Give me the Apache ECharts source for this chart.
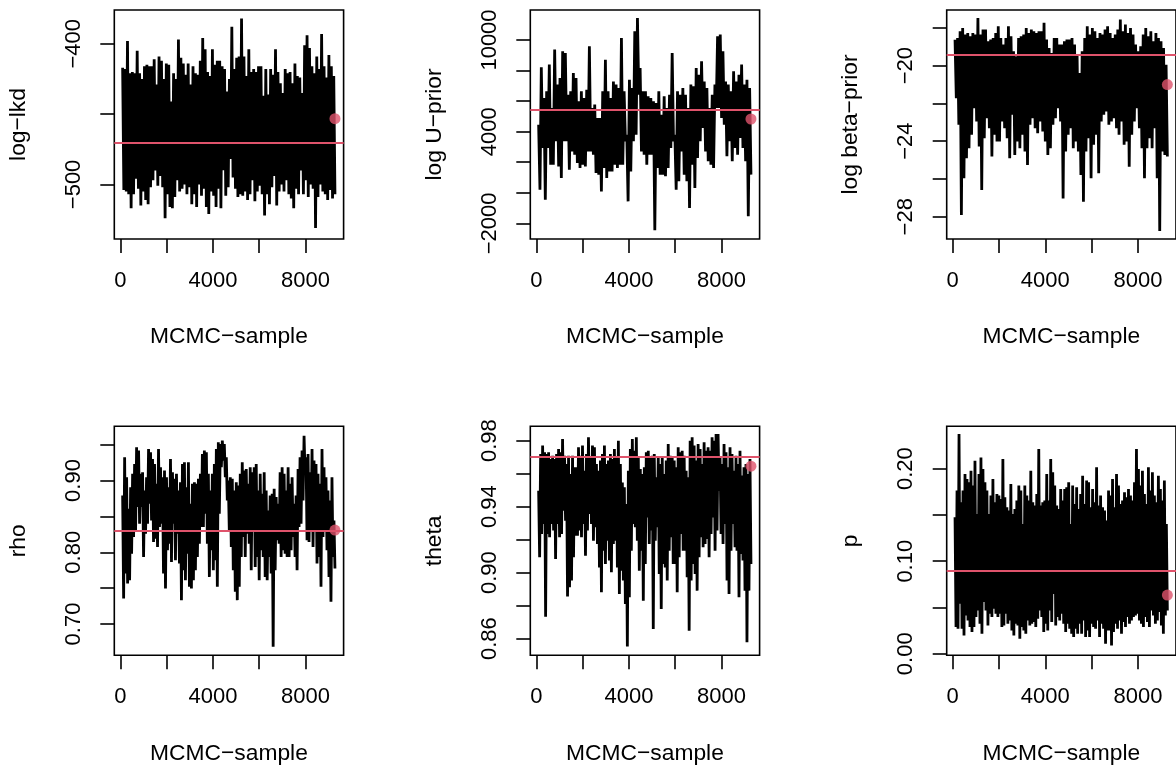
<!DOCTYPE html>
<html><head><meta charset="utf-8">
<script src="https://cdn.jsdelivr.net/npm/echarts@6/dist/echarts.min.js"></script>
<style>html,body{margin:0;padding:0;background:#fff}#c{width:1176px;height:766px}</style>
</head><body><div id="c"></div><script>
// ---- data ----
const sampleFirst = 100, sampleLast = 9270;          // MCMC iteration range of the traces
const xTicks = [0, 2000, 4000, 6000, 8000];
const xLabelVals = [0, 4000, 8000];
const xTitle = 'MCMC\u2212sample';
const yTitles = ['log\u2212lkd', 'log U\u2212prior', 'log beta\u2212prior', 'rho', 'theta', 'p'];

// local upper / lower extremes of each trace, read along the sample axis
const lkdHigh = [-417,-418,-398,-421,-420,-421,-405,-421,-425,-416,-415,-416,-416,-411,-429,-409,-412,-425,-414,-415,-441,-421,-425,-397,-410,-414,-422,-414,-429,-416,-421,-422,-412,-396,-404,-420,-423,-404,-415,-412,-412,-416,-418,-434,-425,-388,-418,-410,-409,-382,-409,-423,-404,-420,-418,-420,-416,-416,-437,-418,-436,-418,-422,-404,-420,-428,-435,-418,-421,-420,-428,-414,-423,-424,-435,-401,-394,-403,-416,-421,-409,-418,-393,-416,-424,-408,-416,-423];
const lkdLow = [-504,-505,-507,-517,-507,-496,-503,-515,-505,-511,-514,-502,-497,-490,-501,-494,-502,-524,-507,-516,-517,-509,-497,-505,-503,-500,-507,-502,-514,-507,-516,-500,-508,-503,-516,-521,-505,-508,-516,-503,-517,-490,-508,-502,-482,-495,-503,-509,-507,-508,-505,-511,-507,-497,-512,-505,-501,-507,-522,-507,-514,-502,-494,-515,-505,-500,-505,-497,-507,-510,-517,-503,-507,-490,-507,-497,-509,-500,-503,-531,-509,-500,-505,-507,-511,-504,-510,-507];

const uHigh = [4460,8210,6200,6640,8390,5550,9370,7080,7510,9260,9150,6420,6640,7840,7510,5990,6640,6200,6750,9590,5550,5770,4890,4890,6640,8710,6640,6200,7290,7080,6860,10130,6640,3800,7400,6860,10570,11440,8170,6640,6640,6310,6200,5990,5880,6640,5110,6310,5550,6420,9150,3800,6640,6420,6860,6420,5550,7080,6970,8170,7730,8600,7290,6860,5550,6420,7080,10240,10350,9260,7290,7080,6640,7950,7290,7730,8390,7080,7400,6860];
const uLow = [200,2930,-450,2930,1840,1840,3370,1730,970,3370,3370,1510,2710,2490,1950,1620,1840,1730,2710,2710,2490,1290,1190,90,1620,970,1400,1400,1840,1620,1840,1840,3370,-560,1400,3370,3800,6420,2710,2490,1840,2490,2490,-2450,1620,1190,1190,1080,1620,2930,3370,200,750,2710,1190,750,-1000,1840,310,2280,3370,4240,2710,2060,1840,1620,5550,5550,4890,4460,2390,3370,2060,2930,2490,3590,2930,2060,-1540,1190];

const betaHigh = [-18.62,-18.53,-18.18,-18.00,-18.35,-18.27,-18.44,-18.27,-18.35,-17.47,-18.35,-18.09,-18.09,-18.71,-18.62,-18.53,-18.27,-17.91,-18.53,-18.88,-18.53,-17.91,-18.44,-19.24,-19.50,-18.53,-18.44,-18.35,-18.00,-18.27,-18.09,-18.18,-18.27,-18.18,-18.18,-17.73,-18.62,-19.06,-19.33,-18.53,-18.53,-18.88,-18.88,-18.71,-18.62,-18.62,-18.53,-18.88,-19.42,-20.39,-19.24,-18.53,-17.91,-18.35,-18.00,-18.18,-18.53,-18.27,-18.35,-18.09,-17.91,-18.27,-18.53,-18.35,-18.09,-17.56,-18.18,-17.82,-18.27,-18.00,-18.35,-18.88,-19.24,-18.97,-18.35,-18.00,-18.44,-18.18,-18.71,-18.27,-18.53,-18.71,-19.06,-19.95];
const betaLow = [-21.72,-23.13,-27.91,-25.96,-24.90,-24.37,-23.66,-22.25,-22.96,-24.28,-26.58,-23.84,-22.78,-23.31,-24.81,-23.66,-24.02,-24.02,-22.96,-23.31,-23.84,-24.90,-22.60,-24.73,-24.02,-24.37,-23.66,-24.55,-25.26,-23.13,-22.78,-23.31,-23.58,-22.96,-23.49,-24.02,-24.73,-24.37,-23.13,-22.78,-22.25,-22.96,-27.03,-24.55,-23.66,-23.31,-24.37,-24.02,-24.55,-25.79,-27.20,-24.55,-23.84,-25.96,-24.19,-23.66,-25.70,-22.96,-22.60,-22.42,-23.13,-22.96,-22.78,-23.31,-23.66,-22.96,-24.19,-24.02,-25.35,-23.66,-22.96,-22.25,-23.31,-24.37,-25.96,-24.37,-23.84,-24.37,-23.31,-25.96,-28.76,-24.55,-24.73,-24.81];

const rhoHigh = [0.8792,0.9324,0.9046,0.8606,0.8907,0.9093,0.9231,0.9463,0.9417,0.9093,0.9116,0.8861,0.9046,0.9440,0.9394,0.9301,0.9231,0.8954,0.9440,0.9185,0.9046,0.9139,0.9046,0.8907,0.9301,0.9116,0.9023,0.9093,0.8861,0.8977,0.9231,0.9255,0.8907,0.9255,0.8676,0.8954,0.8977,0.8954,0.9023,0.9093,0.9370,0.9417,0.9394,0.9093,0.8861,0.9093,0.9231,0.9440,0.9532,0.9509,0.9556,0.9509,0.9324,0.9000,0.9046,0.9023,0.8861,0.8977,0.8931,0.9093,0.9255,0.9139,0.9162,0.8954,0.9185,0.9116,0.9185,0.9231,0.8861,0.9093,0.8815,0.9116,0.8861,0.8583,0.8792,0.8815,0.8884,0.8769,0.8676,0.9116,0.9185,0.9093,0.8861,0.9185,0.8954,0.9046,0.8676,0.8792,0.9162,0.9324,0.9417,0.9625,0.9324,0.9370,0.9116,0.9440,0.9278,0.9231,0.9093,0.8954,0.9440,0.9185,0.9046,0.8861,0.8722,0.9046,0.8444];
const rhoLow = [0.7356,0.7704,0.7565,0.7611,0.7981,0.8213,0.8306,0.8630,0.8398,0.8630,0.7935,0.8259,0.8398,0.8676,0.8444,0.8144,0.8190,0.8074,0.8352,0.8398,0.7704,0.7495,0.8028,0.8120,0.7866,0.8398,0.7889,0.8259,0.7843,0.7333,0.7750,0.7611,0.7981,0.7519,0.7495,0.7611,0.7750,0.7935,0.8120,0.8352,0.8352,0.8537,0.8120,0.7657,0.8028,0.7750,0.7889,0.7519,0.8537,0.9185,0.9278,0.9046,0.8722,0.8306,0.8074,0.7750,0.7449,0.7333,0.7519,0.7935,0.8213,0.7935,0.8259,0.8120,0.7750,0.8306,0.7796,0.7935,0.7611,0.8028,0.7935,0.7657,0.7611,0.7935,0.7704,0.6685,0.7750,0.8167,0.8120,0.7935,0.8028,0.7981,0.7935,0.7935,0.8028,0.8213,0.7935,0.7750,0.8352,0.8398,0.8722,0.9093,0.8167,0.8144,0.8306,0.8074,0.8306,0.7843,0.7935,0.7519,0.8213,0.8306,0.8028,0.7657,0.7310,0.7935,0.7773];

const thetaHigh = [0.9497,0.9719,0.9770,0.9729,0.9719,0.9729,0.9689,0.9709,0.9689,0.9719,0.9749,0.9729,0.9810,0.9709,0.9659,0.9709,0.9598,0.9709,0.9638,0.9638,0.9760,0.9709,0.9770,0.9618,0.9719,0.9820,0.9699,0.9770,0.9760,0.9659,0.9618,0.9679,0.9719,0.9770,0.9659,0.9679,0.9719,0.9689,0.9749,0.9699,0.9800,0.9659,0.9547,0.9517,0.9416,0.9618,0.9749,0.9810,0.9739,0.9820,0.9699,0.9628,0.9598,0.9638,0.9729,0.9739,0.9699,0.9709,0.9719,0.9578,0.9699,0.9659,0.9699,0.9598,0.9679,0.9780,0.9709,0.9699,0.9679,0.9638,0.9760,0.9729,0.9739,0.9709,0.9618,0.9578,0.9800,0.9820,0.9770,0.9679,0.9780,0.9749,0.9659,0.9790,0.9739,0.9760,0.9739,0.9820,0.9800,0.9840,0.9840,0.9699,0.9659,0.9780,0.9729,0.9638,0.9760,0.9719,0.9618,0.9709,0.9659,0.9739,0.9588,0.9638,0.9659,0.9598,0.9689];
const thetaLow = [0.9093,0.9234,0.9295,0.8733,0.9234,0.9214,0.9295,0.9255,0.9083,0.9295,0.9214,0.9234,0.9376,0.9315,0.8855,0.8911,0.8952,0.9093,0.9224,0.9224,0.9255,0.9214,0.9295,0.9103,0.9255,0.9356,0.9295,0.9194,0.9275,0.9174,0.9032,0.8881,0.9133,0.9053,0.9194,0.9073,0.9002,0.9174,0.9194,0.9032,0.8871,0.9012,0.8952,0.8810,0.8552,0.8851,0.9133,0.9295,0.9275,0.9194,0.9012,0.9133,0.8830,0.9053,0.9335,0.9174,0.9255,0.8659,0.9194,0.9275,0.8992,0.8780,0.9053,0.9032,0.8952,0.9133,0.9214,0.9053,0.9053,0.8881,0.9093,0.9234,0.9133,0.9133,0.8972,0.8648,0.8952,0.9053,0.8992,0.8891,0.9093,0.9214,0.9154,0.9174,0.9204,0.9093,0.9234,0.9335,0.9133,0.9255,0.9497,0.9234,0.9174,0.9295,0.8952,0.8871,0.9133,0.9295,0.9154,0.9133,0.8851,0.9113,0.9073,0.8891,0.8578,0.8891,0.9053];

const pHigh = [0.1475,0.1763,0.2374,0.1637,0.1763,0.1942,0.1888,0.1853,0.1978,0.1817,0.2086,0.1511,0.1942,0.2122,0.1996,0.1853,0.1763,0.1511,0.1709,0.1888,0.1637,0.1727,0.1709,0.1673,0.2104,0.1691,0.1583,0.1547,0.1835,0.1511,0.1565,0.1655,0.1817,0.1763,0.1403,0.1817,0.1709,0.1655,0.1978,0.1637,0.1601,0.1727,0.2212,0.1601,0.1637,0.1655,0.1942,0.1655,0.2104,0.1960,0.1817,0.1601,0.1565,0.1781,0.1655,0.1781,0.1799,0.1853,0.1403,0.1817,0.1619,0.1799,0.1565,0.1727,0.1924,0.1619,0.1871,0.1853,0.1583,0.1781,0.1637,0.2014,0.1601,0.1709,0.1583,0.1547,0.1439,0.1763,0.1709,0.1888,0.1583,0.1942,0.1817,0.1619,0.1655,0.1745,0.1691,0.1781,0.1709,0.1655,0.1853,0.2212,0.1996,0.1817,0.1978,0.1727,0.1619,0.2014,0.1763,0.1960,0.1709,0.1637,0.1924,0.1781,0.1655,0.1871,0.1403];
const pLow = [0.0288,0.0270,0.0540,0.0270,0.0198,0.0414,0.0360,0.0288,0.0234,0.0288,0.0396,0.0468,0.0324,0.0216,0.0558,0.0468,0.0306,0.0432,0.0396,0.0486,0.0432,0.0396,0.0432,0.0288,0.0306,0.0432,0.0324,0.0360,0.0252,0.0198,0.0324,0.0306,0.0162,0.0288,0.0252,0.0216,0.0360,0.0306,0.0324,0.0342,0.0288,0.0378,0.0468,0.0396,0.0234,0.0324,0.0252,0.0468,0.0342,0.0647,0.0306,0.0396,0.0360,0.0432,0.0324,0.0234,0.0324,0.0270,0.0216,0.0180,0.0270,0.0216,0.0324,0.0216,0.0360,0.0180,0.0252,0.0180,0.0324,0.0288,0.0270,0.0360,0.0180,0.0324,0.0270,0.0108,0.0252,0.0252,0.0090,0.0234,0.0324,0.0270,0.0360,0.0216,0.0342,0.0288,0.0396,0.0324,0.0360,0.0396,0.0414,0.0432,0.0360,0.0324,0.0288,0.0396,0.0342,0.0288,0.0468,0.0414,0.0324,0.0360,0.0450,0.0306,0.0216,0.0414,0.0468];

const refLines  = [-470.1, 5440, -19.4, 0.8347, 0.9667, 0.0913];   // red horizontal lines
const lastDraws = [-453.3, 4830, -21.0, 0.831, 0.9645, 0.0634];    // red points
const yTicks = [[-500,-450,-400],[-2000,0,2000,4000,6000,8000,10000],[-28,-26,-24,-22,-20,-18],[0.70,0.75,0.80,0.85,0.90,0.95],[0.86,0.88,0.90,0.92,0.94,0.96,0.98],[0,0.05,0.10,0.15,0.20]];
const yLabelVals = [[-500,-400],[-2000,4000,10000],[-28,-24,-20],[0.70,0.80,0.90],[0.86,0.90,0.94,0.98],[0,0.10,0.20]];
const yLabelDigits = [0,0,0,2,2,2];
const yRanges = [[-538.8,-376.0],[-3024,11963],[-29.18,-17.05],[0.6564,0.9756],[0.8499,0.9887],[-0.0017,0.2458]];
const xRange = [-260, 9643];

const highs = [lkdHigh, uHigh, betaHigh, rhoHigh, thetaHigh, pHigh];
const lows  = [lkdLow, uLow, betaLow, rhoLow, thetaLow, pLow];

// ---- layout ----
const boxes = [[114.3,10],[530.3,10],[946.7,10],[114.3,426.3],[530.3,426.3],[946.7,426.3]];
const BW = 229.3, BH = 229;
const FONT = '"Liberation Sans", Arial, Helvetica, sans-serif';
const FS = 22, FST = 22.8;
const RED = '#DF536B';

function fmt(v, d) {
  const s = d ? v.toFixed(d) : String(Math.round(v));
  return s.replace('-', '\u2212');
}

const grid = [], xAxis = [], yAxis = [], series = [];
for (let i = 0; i < 6; i++) {
  grid.push({left: boxes[i][0], top: boxes[i][1], width: BW, height: BH, show: true,
    borderColor: '#000', borderWidth: 1.6, backgroundColor: 'transparent'});
  xAxis.push({type: 'value', gridIndex: i, min: xRange[0], max: xRange[1],
    axisLine: {show: false, onZero: false}, splitLine: {show: false},
    axisTick: {show: true, customValues: xTicks, length: 14, lineStyle: {color: '#000', width: 1.6}},
    axisLabel: {customValues: xLabelVals, margin: 31, fontSize: FS, color: '#000', fontFamily: FONT,
      formatter: v => fmt(v, 0)},
    name: xTitle, nameLocation: 'middle', nameGap: 86.5,
    nameTextStyle: {fontSize: FST, color: '#000', fontFamily: FONT}});
  const d = yLabelDigits[i];
  yAxis.push({type: 'value', gridIndex: i, min: yRanges[i][0], max: yRanges[i][1],
    axisLine: {show: false, onZero: false}, splitLine: {show: false},
    axisTick: {show: true, customValues: yTicks[i], length: 14, lineStyle: {color: '#000', width: 1.6}},
    axisLabel: {customValues: yLabelVals[i], rotate: 90, margin: 29.5, fontSize: FS, color: '#000', fontFamily: FONT,
      formatter: v => fmt(v, d)},
    name: yTitles[i], nameLocation: 'middle', nameGap: 84,
    nameTextStyle: {fontSize: FST, color: '#000', fontFamily: FONT}});
  // trace: alternate local highs and lows along the iteration axis
  const hi = highs[i], lo = lows[i];
  const vals = [];
  for (let k = 0; k < hi.length; k++) { vals.push(hi[k]); vals.push(lo[k]); }
  const n = vals.length;
  const data = vals.map((v, k) => [sampleFirst + k * (sampleLast - sampleFirst) / (n - 1), v]);
  series.push({type: 'line', xAxisIndex: i, yAxisIndex: i, data: data, showSymbol: false, symbol: 'none',
    lineStyle: {color: '#000', width: 2.8, join: 'bevel'}, clip: true, silent: true, z: 2, animation: false});
  series.push({type: 'scatter', xAxisIndex: i, yAxisIndex: i, data: [[sampleLast, lastDraws[i]]],
    symbol: 'circle', symbolSize: 11, itemStyle: {color: RED}, z: 6, silent: true, animation: false,
    markLine: {silent: true, symbol: ['none', 'none'], label: {show: false}, animation: false,
      lineStyle: {color: RED, width: 2, type: 'solid'}, data: [{yAxis: refLines[i]}]}});
}

const chart = echarts.init(document.getElementById('c'), null, {renderer: 'canvas'});
chart.setOption({animation: false, backgroundColor: '#fff', grid, xAxis, yAxis, series});
</script></body></html>
